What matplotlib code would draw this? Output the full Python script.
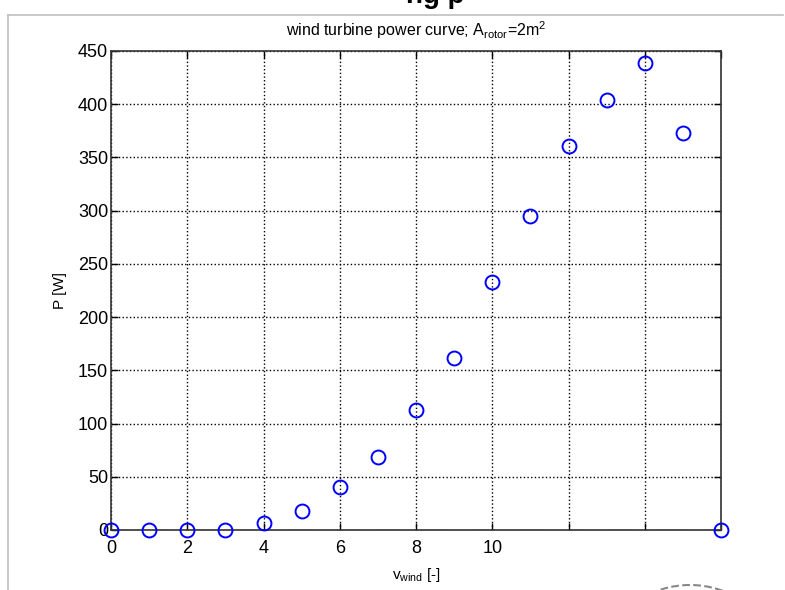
import matplotlib
matplotlib.use("Agg")
import matplotlib.pyplot as plt
from matplotlib.lines import Line2D
from matplotlib.patches import Arc

# wind speed steps and measured power
v_wind = [0, 1, 2, 3, 4, 5, 6, 7, 8, 9, 10, 11, 12, 13, 14, 15, 16]
power = [0, 0, 0, 0, 7, 18, 40, 69, 113, 162, 233, 295, 361, 404, 439, 373, 0]

x_ticks = [0, 2, 4, 6, 8, 10, 12, 14, 16]
x_labels = ['0', '2', '4', '6', '8', '10', '', '', '']
y_ticks = [0, 50, 100, 150, 200, 250, 300, 350, 400, 450]

plt.rcParams['font.family'] = ['Liberation Sans', 'DejaVu Sans']
plt.rcParams['mathtext.fontset'] = 'custom'
plt.rcParams['mathtext.rm'] = 'Liberation Sans'

fig = plt.figure(figsize=(7.85, 5.90), dpi=100)
ax = fig.add_axes([111 / 785, 60 / 590, 610 / 785, 479 / 590])

ax.plot(v_wind, power, 'o', mfc='none', mec='blue', ms=10, mew=1.4, clip_on=False, zorder=5)

ax.set_xlim(0, 16)
ax.set_ylim(0, 450)
ax.set_xticks(x_ticks)
ax.set_xticklabels(x_labels)
ax.set_yticks(y_ticks)
ax.tick_params(direction='in', length=5, width=1, top=True, right=True, labelsize=13, pad=2)
ax.tick_params(axis='x', pad=7)
ax.grid(True, linestyle=':', color='black', linewidth=1)
for s in ax.spines.values():
    s.set_linewidth(1.2)
    s.set_color('#333333')

ax.set_title(r'wind turbine power curve; A$_{\mathrm{rotor}}$=2m$^{\mathrm{2}}$', fontsize=11.5, pad=11)
ax.set_ylabel('P [W]', fontsize=11, labelpad=8)
ax.set_xlabel(r'v$_{\mathrm{wind}}$ [-]', fontsize=11, labelpad=7)

# page frame and bits of the surrounding document
fig.add_artist(Line2D([8 / 785, 8 / 785], [0, 575 / 590], color='#c0c0c0', lw=1.2))
fig.add_artist(Line2D([8 / 785, 783 / 785], [575 / 590, 575 / 590], color='#c0c0c0', lw=1.2))
fig.text(435 / 785, 587 / 590, 'ng p', fontsize=20, fontweight='bold', ha='center', va='baseline')
fig.add_artist(Arc((690 / 785, -90 / 590), 190 / 785, 190 / 590, theta1=30, theta2=150,
                   color='#888888', lw=1.5, linestyle='--'))

fig.savefig('out.png', dpi=100)
